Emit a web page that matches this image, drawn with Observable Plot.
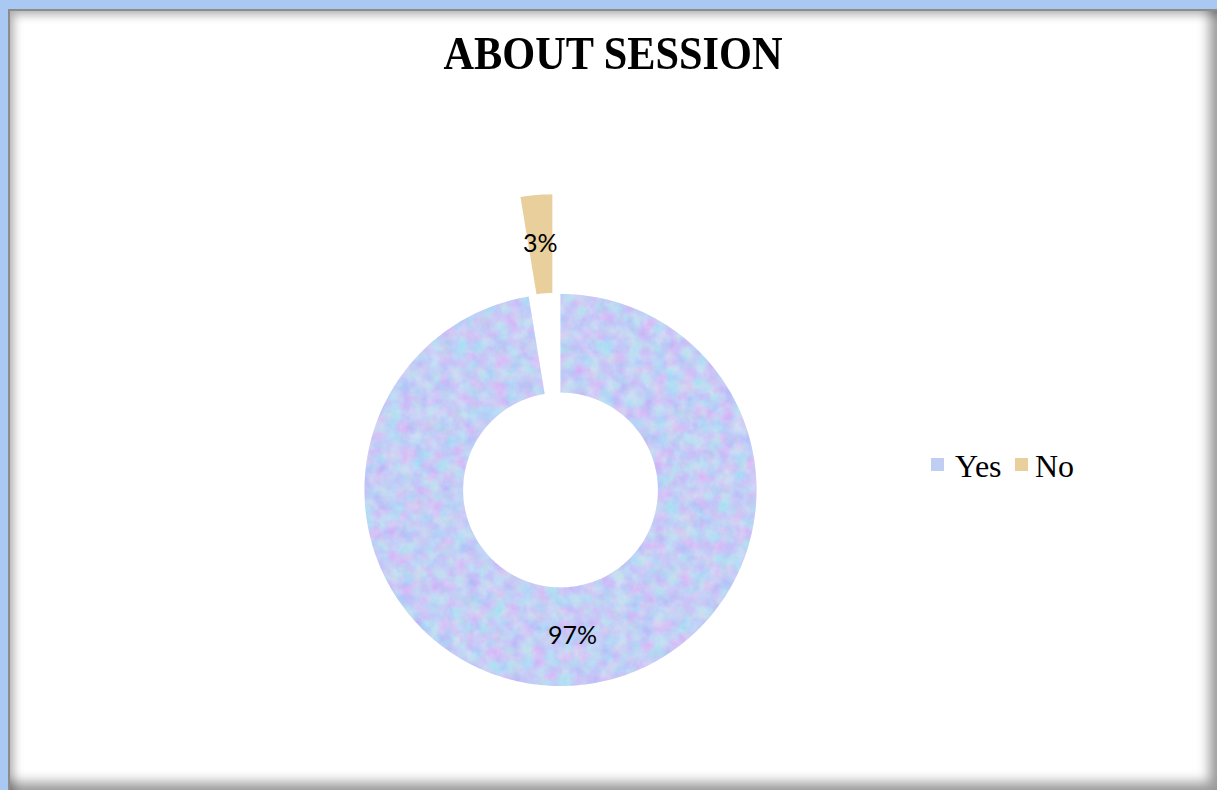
<!DOCTYPE html>
<html>
<head>
<meta charset="utf-8">
<script src="https://cdn.jsdelivr.net/npm/d3@7"></script>
<script src="https://cdn.jsdelivr.net/npm/@observablehq/plot@0.6"></script>
<style>
  html, body { margin: 0; padding: 0; background: #fff; }
  #page { position: relative; width: 1217px; height: 790px; overflow: hidden; background: #a9c8f2; }
  #panel { position: absolute; left: 8px; top: 9px; width: 1209px; height: 781px; background: #fff;
    box-shadow: inset 2px 2px 0 #8c8c8c, inset 6px 6px 10px rgba(0,0,0,0.30), inset -8px -8px 12px rgba(0,0,0,0.38); }
  #title { position: absolute; left: 313px; width: 600px; top: 30px; text-align: center;
    font-family: "Liberation Serif", "Times New Roman", serif; font-weight: bold; font-size: 47px; line-height: 47px;
    transform: scaleX(0.9); transform-origin: 300px 0; color: #000; white-space: nowrap; }
  #chart { position: absolute; left: 200px; top: 180px; }
  .sw { position: absolute; width: 13px; height: 13px; top: 458px; }
  .lt { position: absolute; top: 450px; font-family: "Liberation Serif", "Times New Roman", serif; font-size: 32px; line-height: 32px; color: #000; white-space: nowrap; }
</style>
</head>
<body>
<svg width="0" height="0" style="position:absolute">
  <defs>
    <filter id="mottle" x="0%" y="0%" width="100%" height="100%" color-interpolation-filters="sRGB">
      <feTurbulence type="fractalNoise" baseFrequency="0.075" numOctaves="3" seed="7" result="n"/>
      <feColorMatrix in="n" type="matrix" values="0.7 -0.35 0 0 0.62  0 0.6 -0.4 0 0.72  0 0 0.25 0 0.86  0 0 0 0 0.36" result="c"/>
      <feComposite in="c" in2="SourceGraphic" operator="in" result="ci"/>
      <feMerge><feMergeNode in="SourceGraphic"/><feMergeNode in="ci"/></feMerge>
    </filter>
  </defs>
</svg>
<div id="page">
  <div id="panel"></div>
  <div id="title"></div>
  <div id="chart"></div>
  <div id="legend"></div>
</div>
<script>
// ---- data ----
const categories = ["Yes", "No"];
const values = [97.4, 2.6];
const colors = ["#c0cef3", "#e8cf9c"];
const explode = [0, 0.51];      // explosion, as a fraction of the outer radius
const titleText = "ABOUT SESSION";

// ---- geometry (unit outer radius) ----
const R = 1, r = 0.497;
const pxPerUnit = 196;
const W = 720, H = 600, cx = 360, cy = 309.5;

const arcs = d3.pie().sort(null).value(d => d)(values);
const polyRows = [];
const labelRows = [];
arcs.forEach((a, i) => {
  const mid = (a.startAngle + a.endAngle) / 2;
  const ox = explode[i] * Math.sin(mid), oy = explode[i] * Math.cos(mid);
  const n = Math.max(2, Math.ceil((a.endAngle - a.startAngle) / (Math.PI / 180)));
  const pts = [];
  for (let k = 0; k <= n; k++) {
    const t = a.startAngle + (a.endAngle - a.startAngle) * k / n;
    pts.push([ox + R * Math.sin(t), oy + R * Math.cos(t)]);
  }
  for (let k = n; k >= 0; k--) {
    const t = a.startAngle + (a.endAngle - a.startAngle) * k / n;
    pts.push([ox + r * Math.sin(t), oy + r * Math.cos(t)]);
  }
  pts.forEach(([x, y], j) => polyRows.push({cat: categories[i], x, y, j}));
  const rm = (R + r) / 2;
  labelRows.push({cat: categories[i], x: ox + rm * Math.sin(mid), y: oy + rm * Math.cos(mid),
    label: Math.round(values[i]) + "%"});
});

const plot = Plot.plot({
  width: W, height: H, margin: 0,
  style: {background: "transparent", overflow: "visible"},
  x: {domain: [-cx / pxPerUnit, (W - cx) / pxPerUnit], axis: null},
  y: {domain: [-(H - cy) / pxPerUnit, cy / pxPerUnit], axis: null},
  color: {domain: categories, range: colors},
  marks: [
    Plot.line(polyRows, {x: "x", y: "y", z: "cat", fill: "cat", stroke: "none", curve: "linear-closed"}),
    Plot.text(labelRows, {x: "x", y: "y", text: "label", fontSize: 25, fill: "#000",
      fontFamily: "Lato, 'Open Sans', sans-serif"})
  ]
});
d3.select(plot).selectAll("path")
  .filter(function () { return (this.getAttribute("fill") || "").toLowerCase() === colors[0]; })
  .attr("filter", "url(#mottle)");
document.getElementById("chart").appendChild(plot);
document.getElementById("title").textContent = titleText;

// ---- legend ----
const legend = document.getElementById("legend");
const swLeft = [931, 1015], txLeft = [955, 1035];
categories.forEach((c, i) => {
  const s = document.createElement("div");
  s.className = "sw"; s.style.left = swLeft[i] + "px"; s.style.background = colors[i];
  legend.appendChild(s);
  const t = document.createElement("div");
  t.className = "lt"; t.style.left = txLeft[i] + "px"; t.textContent = c;
  legend.appendChild(t);
});
</script>
</body>
</html>
